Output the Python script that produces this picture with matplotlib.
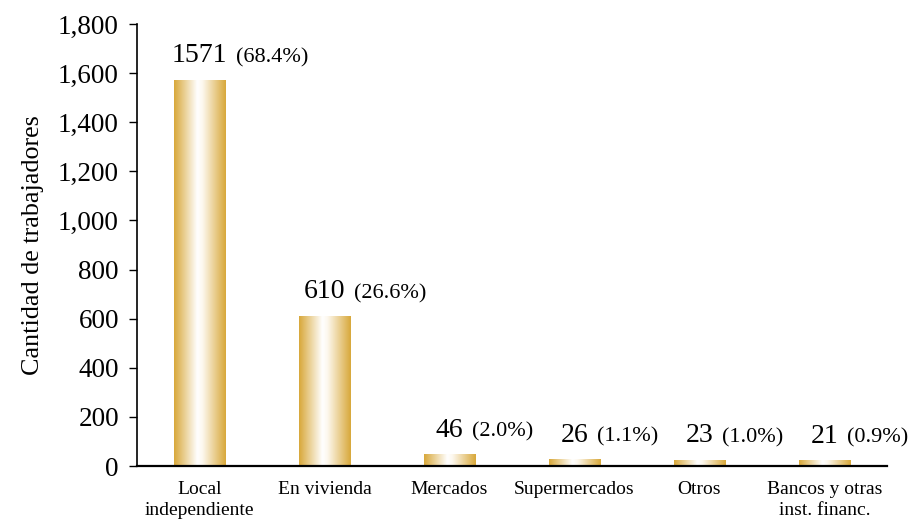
import numpy as np
import matplotlib
matplotlib.use("Agg")
import matplotlib.pyplot as plt
from matplotlib.colors import LinearSegmentedColormap
from matplotlib.ticker import FuncFormatter

# -----------------------
# Data
# -----------------------

categories = ["Local\nindependiente", "En vivienda", "Mercados",
              "Supermercados", "Otros", "Bancos y otras\ninst. financ."]
values = [1571, 610, 46, 26, 23, 21]
shares = ["(68.4%)", "(26.6%)", "(2.0%)", "(1.1%)", "(1.0%)", "(0.9%)"]

plt.rcParams["font.family"] = ["Liberation Serif", "DejaVu Serif"]

fig = plt.figure(figsize=(9.09, 5.2), dpi=100)
ax = fig.add_axes([0.1507, 0.1038, 0.8251, 0.85])

x = np.arange(len(categories))
bars = ax.bar(x, values, width=0.41, color="none", edgecolor="none")

# horizontal gold-white-gold gradient inside each bar
gold = "#d8a83a"
cmap = LinearSegmentedColormap.from_list(
    "gold", [(0, gold), (0.45, "#ffffff"), (0.55, "#fdf8ee"), (1, gold)])
grad = np.linspace(0, 1, 256).reshape(1, -1)
for b in bars:
    x0, y0 = b.get_x(), b.get_y()
    w, h = b.get_width(), b.get_height()
    ax.imshow(grad, cmap=cmap, aspect="auto", interpolation="bicubic",
              extent=(x0, x0 + w, y0, y0 + h), zorder=2)

ax.set_xlim(-0.5, len(categories) - 0.5)
ax.set_ylim(0, 1800)

# value labels: count centred on the bar, share right after it (same baseline)
num_size = 20
for xi, v, s in zip(x, values, shares):
    num = ax.annotate(str(v), (xi, v), xytext=(0, 13), textcoords="offset points",
                      ha="center", va="baseline", fontsize=num_size)
    ax.annotate(s, xy=(1, 0), xycoords=num, xytext=(6, 0.217 * num_size),
                textcoords="offset points", ha="left", va="baseline",
                fontsize=16)

ax.set_xticks(x)
ax.set_xticklabels(categories, fontsize=14, linespacing=1.25)
ax.tick_params(axis="x", length=0, pad=11)

ax.set_yticks(np.arange(0, 1801, 200))
ax.yaxis.set_major_formatter(FuncFormatter(lambda v, p: f"{int(v):,}"))
ax.tick_params(axis="y", labelsize=19.5, length=6, width=1, direction="out", pad=7)

ax.set_ylabel("Cantidad de trabajadores", fontsize=18.8, labelpad=10)

ax.spines["top"].set_visible(False)
ax.spines["right"].set_visible(False)
ax.spines["left"].set_linewidth(1.2)
ax.spines["bottom"].set_linewidth(1.6)

fig.savefig("out.png", dpi=100)
plt.close(fig)
